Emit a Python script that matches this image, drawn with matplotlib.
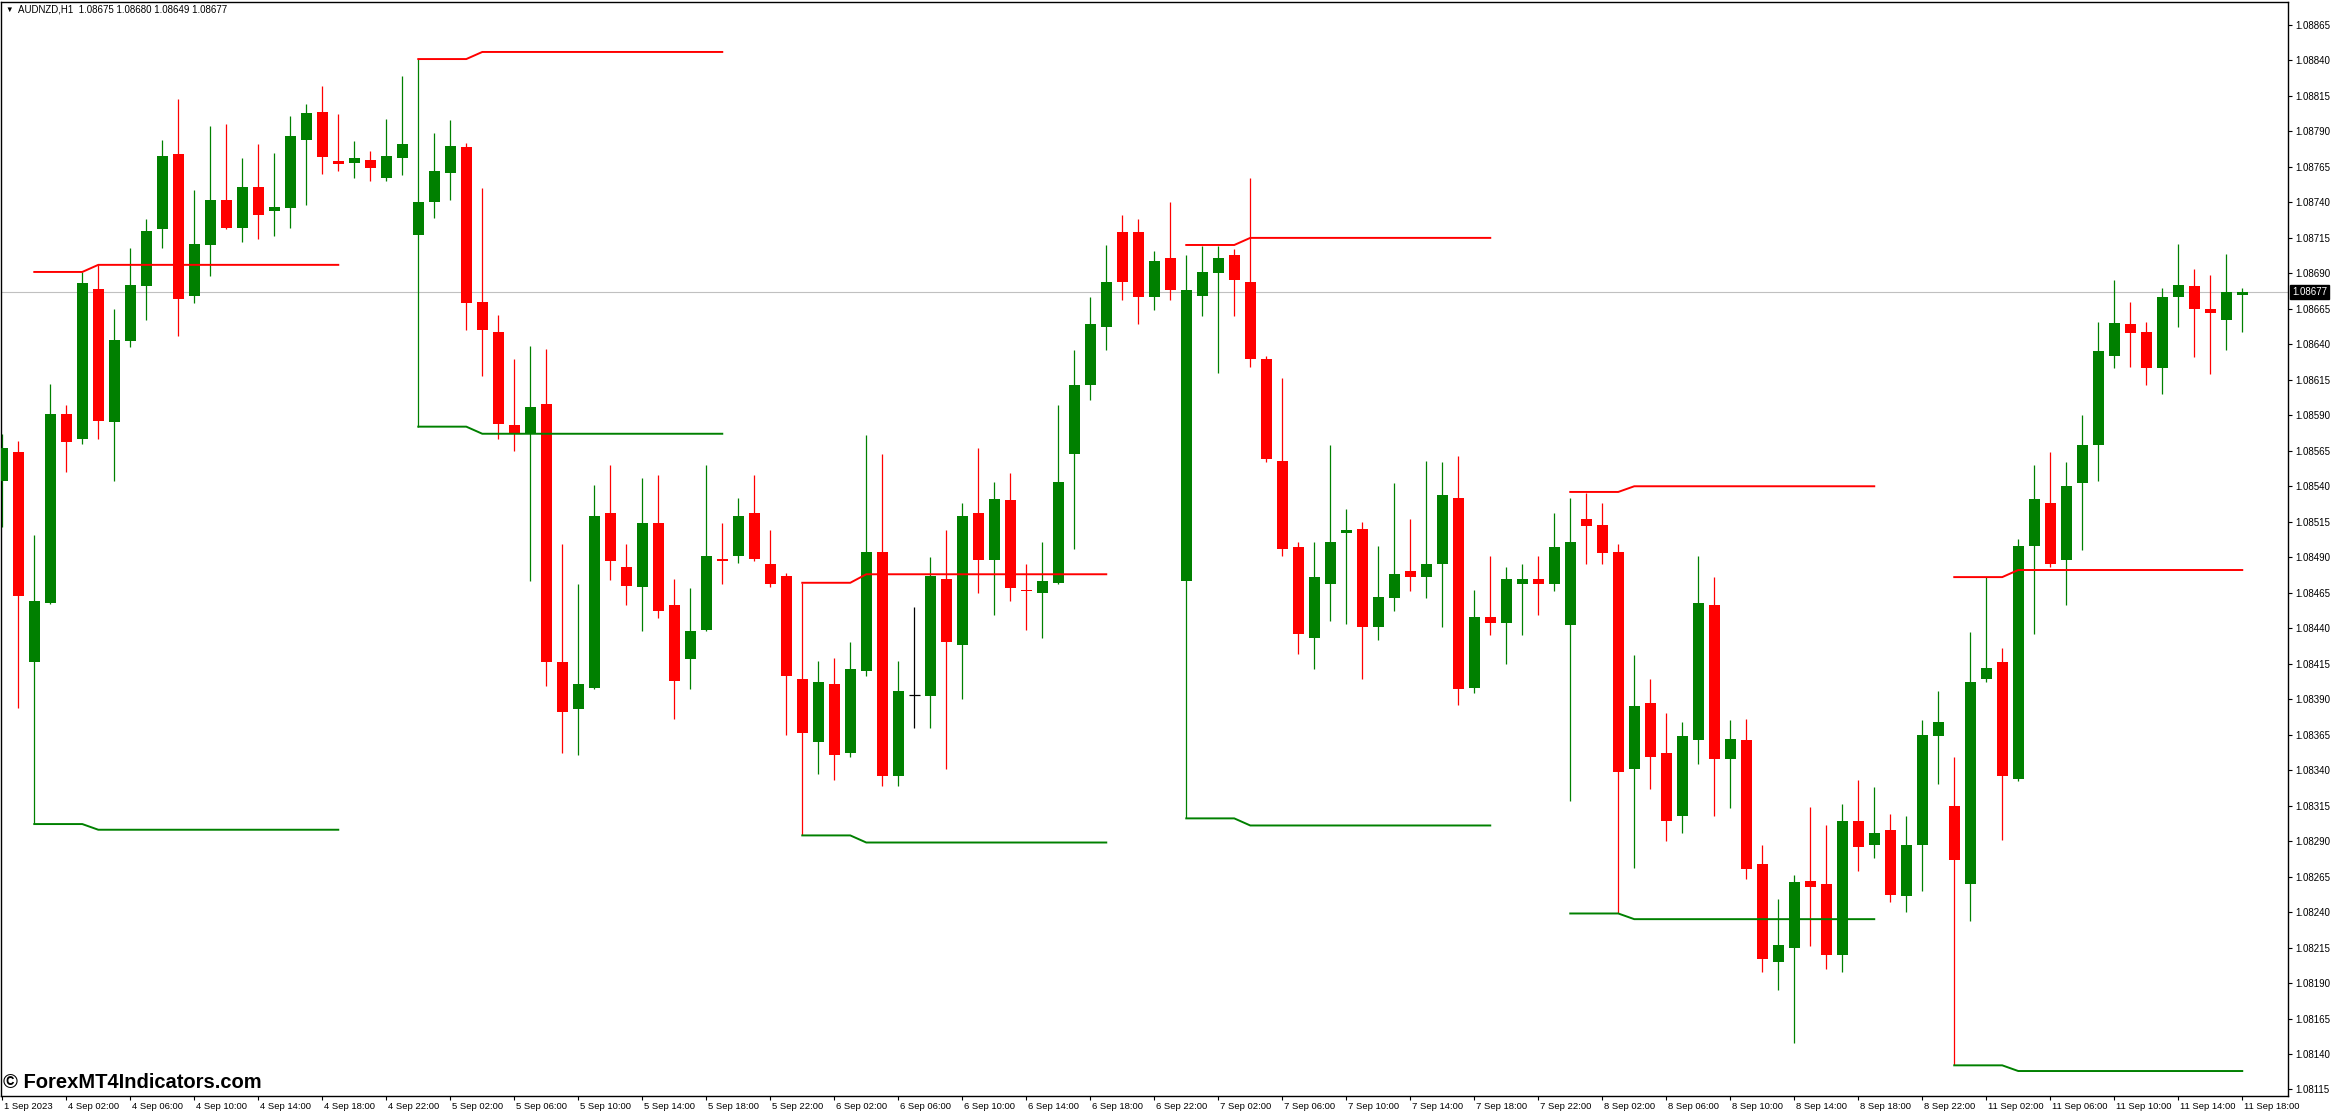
import matplotlib
matplotlib.use("Agg")
import matplotlib.pyplot as plt
import numpy as np
from matplotlib.transforms import ScaledTranslation, blended_transform_factory

# AUDNZD H1 candles, bar 0 = 1 Sep 22:00 ... bar 140 = 11 Sep 18:00
opens = [
    1.08544, 1.08564, 1.08416, 1.08458, 1.08591, 1.08573, 1.08679, 1.08585, 1.08642, 1.08681,
    1.08721, 1.08774, 1.08674, 1.08710, 1.08742, 1.08722, 1.08751, 1.08734, 1.08736, 1.08784,
    1.08804, 1.08769, 1.08768, 1.08770, 1.08757, 1.08771, 1.08717, 1.08740, 1.08761, 1.08779,
    1.08670, 1.08649, 1.08583, 1.08577, 1.08598, 1.08416, 1.08383, 1.08398, 1.08521, 1.08483,
    1.08469, 1.08514, 1.08456, 1.08418, 1.08439, 1.08489, 1.08491, 1.08521, 1.08485, 1.08477,
    1.08404, 1.08360, 1.08401, 1.08352, 1.08410, 1.08494, 1.08336, 1.08393, 1.08392, 1.08475,
    1.08428, 1.08521, 1.08488, 1.08530, 1.08467, 1.08465, 1.08472, 1.08563, 1.08611, 1.08652,
    1.08719, 1.08719, 1.08673, 1.08701, 1.08473, 1.08674, 1.08690, 1.08703, 1.08684, 1.08630,
    1.08558, 1.08497, 1.08433, 1.08471, 1.08507, 1.08510, 1.08441, 1.08461, 1.08480, 1.08476,
    1.08485, 1.08532, 1.08398, 1.08448, 1.08444, 1.08471, 1.08475, 1.08471, 1.08442, 1.08517,
    1.08513, 1.08494, 1.08341, 1.08387, 1.08352, 1.08308, 1.08361, 1.08456, 1.08348, 1.08361,
    1.08274, 1.08205, 1.08215, 1.08262, 1.08260, 1.08210, 1.08304, 1.08287, 1.08298, 1.08251,
    1.08287, 1.08364, 1.08315, 1.08260, 1.08404, 1.08416, 1.08334, 1.08498, 1.08528, 1.08488,
    1.08542, 1.08569, 1.08632, 1.08654, 1.08649, 1.08623, 1.08673, 1.08681, 1.08665, 1.08657,
    1.08675,
]
highs = [
    1.08577, 1.08572, 1.08506, 1.08612, 1.08597, 1.08691, 1.08696, 1.08665, 1.08708, 1.08728,
    1.08784, 1.08813, 1.08749, 1.08794, 1.08795, 1.08771, 1.08781, 1.08775, 1.08801, 1.08809,
    1.08822, 1.08802, 1.08783, 1.08776, 1.08799, 1.08829, 1.08841, 1.08789, 1.08798, 1.08782,
    1.08750, 1.08661, 1.08630, 1.08639, 1.08637, 1.08499, 1.08471, 1.08541, 1.08555, 1.08499,
    1.08546, 1.08548, 1.08475, 1.08468, 1.08555, 1.08514, 1.08532, 1.08548, 1.08509, 1.08479,
    1.08472, 1.08417, 1.08419, 1.08430, 1.08576, 1.08563, 1.08417, 1.08455, 1.08490, 1.08509,
    1.08528, 1.08567, 1.08543, 1.08549, 1.08485, 1.08501, 1.08597, 1.08636, 1.08673, 1.08710,
    1.08731, 1.08728, 1.08706, 1.08740, 1.08703, 1.08709, 1.08709, 1.08707, 1.08757, 1.08632,
    1.08616, 1.08501, 1.08501, 1.08569, 1.08524, 1.08515, 1.08498, 1.08542, 1.08517, 1.08558,
    1.08557, 1.08561, 1.08467, 1.08491, 1.08483, 1.08485, 1.08491, 1.08521, 1.08532, 1.08535,
    1.08528, 1.08499, 1.08421, 1.08404, 1.08380, 1.08374, 1.08491, 1.08476, 1.08375, 1.08376,
    1.08287, 1.08249, 1.08266, 1.08314, 1.08301, 1.08316, 1.08333, 1.08328, 1.08309, 1.08308,
    1.08375, 1.08396, 1.08349, 1.08437, 1.08476, 1.08426, 1.08503, 1.08555, 1.08564, 1.08557,
    1.08590, 1.08656, 1.08685, 1.08670, 1.08656, 1.08680, 1.08711, 1.08693, 1.08689, 1.08704,
    1.08680,
]
lows = [
    1.08511, 1.08384, 1.08302, 1.08457, 1.08550, 1.08570, 1.08573, 1.08544, 1.08638, 1.08657,
    1.08708, 1.08646, 1.08669, 1.08688, 1.08721, 1.08712, 1.08714, 1.08716, 1.08722, 1.08738,
    1.08760, 1.08762, 1.08757, 1.08755, 1.08755, 1.08759, 1.08582, 1.08729, 1.08742, 1.08650,
    1.08618, 1.08573, 1.08565, 1.08473, 1.08399, 1.08352, 1.08351, 1.08397, 1.08474, 1.08456,
    1.08438, 1.08447, 1.08376, 1.08397, 1.08438, 1.08471, 1.08486, 1.08487, 1.08469, 1.08365,
    1.08294, 1.08337, 1.08333, 1.08349, 1.08406, 1.08329, 1.08329, 1.08370, 1.08370, 1.08341,
    1.08390, 1.08465, 1.08449, 1.08459, 1.08439, 1.08433, 1.08471, 1.08496, 1.08601, 1.08636,
    1.08671, 1.08654, 1.08664, 1.08671, 1.08306, 1.08660, 1.08620, 1.08660, 1.08624, 1.08557,
    1.08491, 1.08422, 1.08411, 1.08445, 1.08443, 1.08404, 1.08432, 1.08452, 1.08466, 1.08461,
    1.08441, 1.08386, 1.08394, 1.08435, 1.08415, 1.08435, 1.08449, 1.08466, 1.08318, 1.08485,
    1.08485, 1.08239, 1.08271, 1.08327, 1.08290, 1.08296, 1.08344, 1.08308, 1.08313, 1.08263,
    1.08198, 1.08185, 1.08148, 1.08216, 1.08200, 1.08198, 1.08269, 1.08278, 1.08247, 1.08240,
    1.08255, 1.08330, 1.08132, 1.08234, 1.08402, 1.08291, 1.08332, 1.08436, 1.08483, 1.08456,
    1.08495, 1.08544, 1.08623, 1.08624, 1.08611, 1.08605, 1.08652, 1.08631, 1.08619, 1.08636,
    1.08649,
]
closes = [
    1.08567, 1.08463, 1.08459, 1.08591, 1.08571, 1.08683, 1.08586, 1.08643, 1.08682, 1.08720,
    1.08773, 1.08672, 1.08711, 1.08742, 1.08722, 1.08751, 1.08731, 1.08737, 1.08787, 1.08803,
    1.08772, 1.08767, 1.08771, 1.08764, 1.08773, 1.08781, 1.08740, 1.08762, 1.08780, 1.08669,
    1.08650, 1.08584, 1.08577, 1.08596, 1.08416, 1.08381, 1.08401, 1.08519, 1.08487, 1.08470,
    1.08514, 1.08452, 1.08403, 1.08438, 1.08491, 1.08487, 1.08519, 1.08489, 1.08471, 1.08406,
    1.08366, 1.08402, 1.08351, 1.08411, 1.08494, 1.08336, 1.08396, 1.08393, 1.08477, 1.08430,
    1.08519, 1.08488, 1.08531, 1.08468, 1.08466, 1.08473, 1.08543, 1.08611, 1.08654, 1.08684,
    1.08684, 1.08673, 1.08699, 1.08678, 1.08678, 1.08691, 1.08701, 1.08685, 1.08630, 1.08559,
    1.08496, 1.08436, 1.08476, 1.08501, 1.08509, 1.08441, 1.08462, 1.08478, 1.08476, 1.08485,
    1.08534, 1.08397, 1.08448, 1.08444, 1.08475, 1.08475, 1.08471, 1.08497, 1.08501, 1.08512,
    1.08493, 1.08339, 1.08385, 1.08349, 1.08304, 1.08364, 1.08458, 1.08348, 1.08362, 1.08270,
    1.08207, 1.08217, 1.08261, 1.08258, 1.08210, 1.08304, 1.08286, 1.08296, 1.08252, 1.08287,
    1.08365, 1.08374, 1.08277, 1.08402, 1.08412, 1.08336, 1.08498, 1.08531, 1.08485, 1.08540,
    1.08569, 1.08635, 1.08655, 1.08648, 1.08623, 1.08673, 1.08682, 1.08665, 1.08662, 1.08677,
    1.08677,
]

# daily range indicator: level for the first bars of each day, then the widened level
seg_start = [2, 26, 50, 74, 98, 122]
seg_end = [21, 45, 69, 93, 117, 140]
upper_first = [1.08691, 1.08841, 1.08472, 1.08710, 1.08536, 1.08476]
upper_then = [1.08696, 1.08846, 1.08478, 1.08715, 1.08540, 1.08481]
lower_first = [1.08302, 1.08582, 1.08294, 1.08306, 1.08239, 1.08132]
lower_then = [1.08298, 1.08577, 1.08289, 1.08301, 1.08235, 1.08128]

time_labels = [
    "1 Sep 2023", "4 Sep 02:00", "4 Sep 06:00", "4 Sep 10:00", "4 Sep 14:00", "4 Sep 18:00",
    "4 Sep 22:00", "5 Sep 02:00", "5 Sep 06:00", "5 Sep 10:00", "5 Sep 14:00", "5 Sep 18:00",
    "5 Sep 22:00", "6 Sep 02:00", "6 Sep 06:00", "6 Sep 10:00", "6 Sep 14:00", "6 Sep 18:00",
    "6 Sep 22:00", "7 Sep 02:00", "7 Sep 06:00", "7 Sep 10:00", "7 Sep 14:00", "7 Sep 18:00",
    "7 Sep 22:00", "8 Sep 02:00", "8 Sep 06:00", "8 Sep 10:00", "8 Sep 14:00", "8 Sep 18:00",
    "8 Sep 22:00", "11 Sep 02:00", "11 Sep 06:00", "11 Sep 10:00", "11 Sep 14:00", "11 Sep 18:00",
]
symbol = "AUDNZD,H1"
last_price = 1.08677

UP = "#008000"
DOWN = "#ff0000"
FONT = ["Liberation Sans", "DejaVu Sans"]

o = np.array(opens)
h = np.array(highs)
l = np.array(lows)
c = np.array(closes)
x = np.arange(len(o))

fig = plt.figure(figsize=(23.31, 11.13), dpi=100)
W, H = 2331, 1113
ax = fig.add_axes([1 / W, 17 / H, 2287 / W, 1094 / H])
ax.set_xlim(-0.08, 142.86)
ax.set_ylim(1.081104, 1.088812)

colors = np.where(c > o, UP, np.where(c < o, DOWN, "black"))

# current price line
ax.axhline(last_price, color="#c0c0c0", linewidth=0.8, zorder=1)

ax.vlines(x, l, h, colors=colors, linewidth=0.9, zorder=2)
body_lo = np.minimum(o, c)
body_h = np.maximum(np.abs(c - o), 0.000012)
solid = c != o
ax.bar(x[solid], body_h[solid], bottom=body_lo[solid], width=0.69,
       color=colors[solid], linewidth=0, zorder=3)
doji = ~solid
ax.hlines(o[doji], x[doji] - 0.345, x[doji] + 0.345, colors="black", linewidth=0.9, zorder=3)

for s, e, uf, ut, lf, lt in zip(seg_start, seg_end, upper_first, upper_then, lower_first, lower_then):
    xs = np.arange(s, e + 1)
    up = np.where(xs < s + 4, uf, ut)
    dn = np.where(xs < s + 4, lf, lt)
    ax.plot(xs, up, color=DOWN, linewidth=1.4, zorder=4)
    ax.plot(xs, dn, color=UP, linewidth=1.4, zorder=4)

# axes styling, MT4 look
for sp in ax.spines.values():
    sp.set_color("black")
    sp.set_linewidth(1.0)

yt = np.round(np.arange(1.08115, 1.088651, 0.00025), 5)
ax.set_yticks(yt)
ax.set_yticklabels([f"{v:.5f}" for v in yt], fontfamily=FONT)
ax.yaxis.tick_right()
ax.tick_params(axis="y", direction="out", length=3, width=0.8, labelsize=7, pad=2)

ax.set_xticks(np.arange(0, 4 * len(time_labels), 4))
ax.set_xticklabels(time_labels, fontfamily=FONT)
ax.tick_params(axis="x", direction="out", length=3, width=0.8, labelsize=6.8, pad=1.5)
shift = ScaledTranslation(2 / 100, 0, fig.dpi_scale_trans)
for lbl in ax.get_xticklabels():
    lbl.set_horizontalalignment("left")
    lbl.set_transform(lbl.get_transform() + shift)

# price tag on the right axis
ax.annotate(f"{last_price:.5f}", xy=(1, last_price), xycoords=blended_transform_factory(ax.transAxes, ax.transData),
            xytext=(3, 0), textcoords="offset points", ha="left", va="center",
            fontsize=7, color="white", fontfamily=FONT,
            bbox=dict(boxstyle="square,pad=0.18", fc="black", ec="black"), zorder=6)

# header and watermark
fig.text(5 / W, 1 - 10 / H, "\u25bc", fontsize=5.5, va="center", ha="left", fontfamily=FONT)
fig.text(18 / W, 1 - 10 / H, f"{symbol}  1.08675 1.08680 1.08649 1.08677",
         fontsize=7, va="center", ha="left", fontfamily=FONT)
fig.text(3 / W, 1 - 1082 / H, "\u00a9 ForexMT4Indicators.com", fontsize=14.5, fontweight="bold",
         va="center", ha="left", fontfamily=FONT)

fig.savefig("out.png", dpi=100)
